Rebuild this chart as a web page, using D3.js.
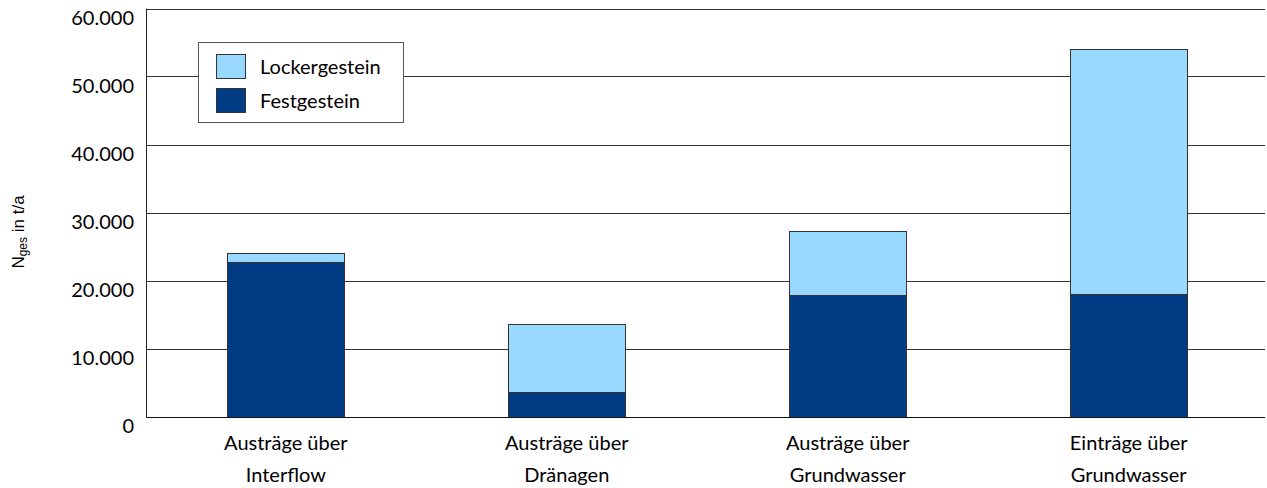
<!DOCTYPE html>
<html><head><meta charset="utf-8">
<script src="https://cdn.jsdelivr.net/npm/d3@7"></script>
<style>
body{margin:0;background:#fff;}
svg{display:block;}
text{font-family:Lato, "Open Sans", sans-serif;fill:#000;}
</style></head>
<body>
<svg id="chart" width="1267" height="488"></svg>
<script>
const categories = [["Austräge über","Interflow"],["Austräge über","Dränagen"],["Austräge über","Grundwasser"],["Einträge über","Grundwasser"]];
const festgestein = [22700, 3550, 17800, 17950];
const lockergestein = [1350, 10080, 9440, 36120];
const seriesNames = ["Lockergestein","Festgestein"];
const yTicks = [0,10000,20000,30000,40000,50000,60000];
const yTickLabels = ["0","10.000","20.000","30.000","40.000","50.000","60.000"];
const colors = {Festgestein:"#003B84", Lockergestein:"#99D8FF"};

(function(){
const svg = d3.select("#chart");
const pLeft = 146.5, pRight = 1265, pTop = 8.5, pBottom = 416.5;
const x = d3.scaleBand().domain(d3.range(categories.length)).range([pLeft, 1268]).paddingInner(0.5835).paddingOuter(0.2877);
const y = d3.scaleLinear().domain([0,60000]).range([pBottom, pTop]);

// gridlines
svg.append("g").selectAll("line").data(yTicks).join("line")
  .attr("x1", pLeft).attr("x2", pRight)
  .attr("y1", d=>Math.round(y(d))+0.5).attr("y2", d=>Math.round(y(d))+0.5)
  .attr("stroke", "#333").attr("stroke-width", 1);
// left axis
svg.append("line").attr("x1", pLeft).attr("x2", pLeft).attr("y1", pTop).attr("y2", pBottom+0.5)
  .attr("stroke","#222").attr("stroke-width",1);

// y tick labels
svg.append("g").selectAll("text").data(yTicks).join("text")
  .attr("x", 134).attr("y", d=>y(d)+16.5)
  .attr("text-anchor","end").attr("font-size", 20)
  .text((d,i)=>yTickLabels[i]);

// stacked data
const data = categories.map((c,i)=>({i, Festgestein:festgestein[i], Lockergestein:lockergestein[i]}));
const stack = d3.stack().keys(["Festgestein","Lockergestein"])(data);
const bw = x.bandwidth();
svg.append("g").selectAll("g").data(stack).join("g")
  .attr("fill", d=>colors[d.key])
  .selectAll("rect").data(d=>d).join("rect")
  .attr("x", d=>Math.round(x(d.data.i))+0.5)
  .attr("width", Math.round(bw))
  .attr("y", d=>Math.round(y(d[1]))+0.5)
  .attr("height", d=>Math.round(y(d[0]))-Math.round(y(d[1])))
  .attr("stroke","#333").attr("stroke-width",1);

// axis baseline on top
svg.append("line").attr("x1", pLeft).attr("x2", pRight)
  .attr("y1", Math.round(y(0))+0.5).attr("y2", Math.round(y(0))+0.5)
  .attr("stroke","#111").attr("stroke-width",1.2);

// category labels
const cl = svg.append("g").selectAll("text").data(categories).join("text")
  .attr("text-anchor","middle").attr("font-size",20)
  .attr("x",(d,i)=>x(i)+bw/2);
cl.append("tspan").attr("x",(d,i)=>x(i)+bw/2).attr("y",450).text(d=>d[0]);
cl.append("tspan").attr("x",(d,i)=>x(i)+bw/2).attr("y",482).text(d=>d[1]);

// y-axis title
const yt = svg.append("text")
  .attr("transform","translate(24,232) rotate(-90)")
  .attr("text-anchor","middle")
  .style("font-family","'Liberation Sans', Arial, sans-serif")
  .attr("font-size",17);
yt.append("tspan").text("N");
yt.append("tspan").attr("font-size",12).attr("dy",3).text("ges");
yt.append("tspan").attr("dy",-3).text(" in t/a");

// legend
const lg = svg.append("g");
lg.append("rect").attr("x",198.5).attr("y",42.5).attr("width",205).attr("height",80)
  .attr("fill","#fff").attr("stroke","#555").attr("stroke-width",1);
seriesNames.forEach((s,i)=>{
  lg.append("rect").attr("x",216.5).attr("y",54.5+i*34).attr("width",29).attr("height",24)
    .attr("fill",colors[s]).attr("stroke","#333").attr("stroke-width",1);
  lg.append("text").attr("x",260).attr("y",74+i*33.5).attr("font-size",20).text(s);
});
})();
</script>
</body></html>
